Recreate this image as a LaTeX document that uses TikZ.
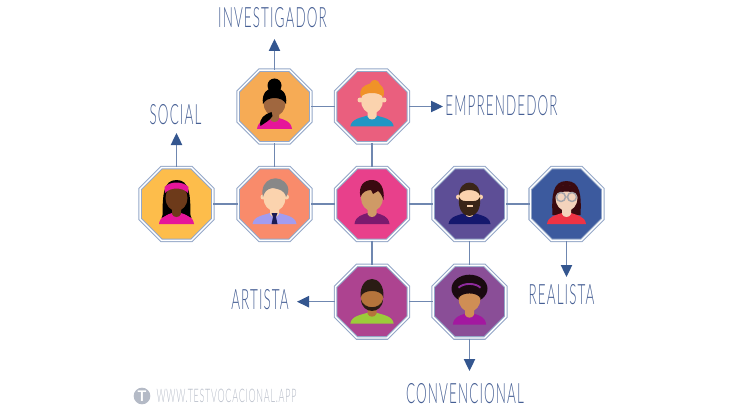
\documentclass[tikz,border=0pt]{standalone}
\usepackage{fontspec}
\setmainfont{Lato}
\newfontfamily\handfont[FakeStretch=0.48,LetterSpace=4]{Lato Light}
\usetikzlibrary{shapes.geometric,arrows.meta}

\definecolor{linkblue}{HTML}{6F87B0}
\definecolor{tipblue}{HTML}{34568F}
\definecolor{labelblue}{HTML}{465F94}
\definecolor{rimblue}{HTML}{94A7C8}
\definecolor{webgrey}{HTML}{B4BAC6}
\definecolor{hotpink}{HTML}{E6159A}
% octagon backgrounds
\definecolor{bgsocial}{HTML}{FDBD4B}
\definecolor{bginvest}{HTML}{F6AB55}
\definecolor{bgempren}{HTML}{EA5F7E}
\definecolor{bggrey}{HTML}{F98B6B}
\definecolor{bgcentre}{HTML}{E8408B}
\definecolor{bgbeard}{HTML}{5D4E96}
\definecolor{bgreal}{HTML}{3C5A9E}
\definecolor{bgartist}{HTML}{AD4390}
\definecolor{bgconv}{HTML}{8A4E97}
% skin, hair and shirts
\definecolor{skinsocial}{HTML}{6D3A1A}
\definecolor{skininvest}{HTML}{A0673F}
\definecolor{skinpale}{HTML}{FBD3AE}
\definecolor{skincentre}{HTML}{CF9A66}
\definecolor{skinreal}{HTML}{F3D3BC}
\definecolor{skinartist}{HTML}{B5743C}
\definecolor{skinconv}{HTML}{CF8E55}
\definecolor{hairorange}{HTML}{F09228}
\definecolor{hairgrey}{HTML}{888888}
\definecolor{hairmaroon}{HTML}{3A0A10}
\definecolor{hairbrown}{HTML}{3A2518}
\definecolor{hairdark}{HTML}{2A1C14}
\definecolor{hairafro}{HTML}{1A0A10}
\definecolor{shirtblue}{HTML}{2196C4}
\definecolor{shirtlilac}{HTML}{A39CF0}
\definecolor{tienavy}{HTML}{1B1B55}
\definecolor{shirtplum}{HTML}{7B1A6E}
\definecolor{shirtnavy}{HTML}{15186E}
\definecolor{shirtred}{HTML}{EE3344}
\definecolor{shirtgreen}{HTML}{9CCB3A}
\definecolor{shirtviolet}{HTML}{A318A0}
\definecolor{bandviolet}{HTML}{8E2A9C}
\definecolor{glassgrey}{HTML}{A5A5AA}

\tikzset{
	octa/.style={regular polygon,regular polygon sides=8,inner sep=0pt,minimum size=59pt,
		draw=rimblue,double=white,double distance=1pt,line width=0.85pt,fill=#1},
	link/.style={draw=linkblue,line width=0.9pt},
	outlink/.style={link,-{Triangle[length=9pt,width=8.5pt,color=tipblue]}},
	area/.style={font=\handfont\fontsize{21pt}{21pt}\selectfont,text=labelblue,inner sep=0pt}
}
% shoulders, neck and face of one person: skin, shirt, half width of the shoulders
\newcommand{\bust}[3]{
	\fill [#2] (-#3,20) .. controls (-#3+1,12) and (-10,11) .. (-4.5,9) -- (4.5,9) .. controls (10,11) and (#3-1,12) .. (#3,20) -- cycle ;
	\fill [#1] (-4.5,2) -- (4.5,2) -- (4.5,10) .. controls (3,14) and (-3,14) .. (-4.5,10) -- cycle ;
	\fill [#1] (0,-6) ellipse (11 and 13) ;
}

\begin{document}
\begin{tikzpicture}[x=0.75pt,y=0.75pt,yscale=-1,xscale=1]
	\useasboundingbox (0,0) rectangle (743,410);

	% Octagons
	\node [octa=bgsocial] (social) at (176.5,204) {};
	\node [octa=bginvest] (investigador) at (274.5,106.5) {};
	\node [octa=bgempren] (emprendedor) at (372,106.5) {};
	\node [octa=bggrey] (grey) at (274.5,204) {};
	\node [octa=bgcentre] (centre) at (372,204) {};
	\node [octa=bgbeard] (beard) at (469.5,204) {};
	\node [octa=bgreal] (realista) at (566.5,204) {};
	\node [octa=bgartist] (artista) at (372,301.7) {};
	\node [octa=bgconv] (convencional) at (469.5,301.7) {};

	% Links
	\draw [link] (social) -- (grey) ;
	\draw [link] (grey) -- (centre) ;
	\draw [link] (centre) -- (beard) ;
	\draw [link] (beard) -- (realista) ;
	\draw [link] (investigador) -- (emprendedor) ;
	\draw [link] (investigador) -- (grey) ;
	\draw [link] (emprendedor) -- (centre) ;
	\draw [link] (centre) -- (artista) ;
	\draw [link] (beard) -- (convencional) ;
	\draw [link] (artista) -- (convencional) ;

	% Free ends
	\coordinate (socialtip) at (176.5,133) ;
	\coordinate (investigadortip) at (274.5,39) ;
	\coordinate (emprendedortip) at (443,106.5) ;
	\coordinate (artistatip) at (297,301.7) ;
	\coordinate (realistatip) at (566.5,277) ;
	\coordinate (convencionaltip) at (469.5,371) ;
	\draw [outlink] (social) -- (socialtip) ;
	\draw [outlink] (investigador) -- (investigadortip) ;
	\draw [outlink] (emprendedor) -- (emprendedortip) ;
	\draw [outlink] (artista) -- (artistatip) ;
	\draw [outlink] (realista) -- (realistatip) ;
	\draw [outlink] (convencional) -- (convencionaltip) ;

	% Text Node
	\node [area] (socialtext) at (175.5,115) {SOCIAL};
	\node [area] (investigadortext) at (272.5,18) {INVESTIGADOR};
	\node [area] (emprendedortext) at (501.5,106) {EMPRENDEDOR};
	\node [area] (artistatext) at (260,300) {ARTISTA};
	\node [area] (realistatext) at (561.5,295) {REALISTA};
	\node [area] (convencionaltext) at (465,394) {CONVENCIONAL};

	% Person, social
	\begin{scope}[shift={(176.5,204)}]
		\fill [black] (-14,13) .. controls (-14,-10) and (-13,-24) .. (0,-24) .. controls (13,-24) and (14,-10) .. (14,13) -- cycle ;
		\bust{skinsocial}{hotpink}{17.5}
		\fill [black] (-15,14) -- (-10,2) -- (-5,8) -- cycle ;
		\fill [black] (15,14) -- (10,2) -- (5,8) -- cycle ;
		\fill [hotpink] (-11.5,-11) .. controls (-6,-17) and (6,-17) .. (11.5,-11) -- (12,-17) .. controls (6,-23) and (-6,-23) .. (-12,-17) -- cycle ;
	\end{scope}

	% Person, investigador
	\begin{scope}[shift={(274.5,109)}]
		\fill [black] (0,-23.5) circle (7) ;
		\bust{skininvest}{hotpink}{17.5}
		\fill [black] (-11.5,-5) .. controls (-15,-27) and (15,-27) .. (11.5,-5) .. controls (8,-13) and (-8,-13) .. (-11.5,-5) -- cycle ;
		\fill [black] (-3,3) .. controls (-10,5) and (-16,10) .. (-14,17) .. controls (-10,14) and (-5,12) .. (-2,7) -- cycle ;
	\end{scope}

	% Person, emprendedor
	\begin{scope}[shift={(372,106.5)}]
		\fill [skinpale] (-12,-6.5) circle (2.5) (12,-6.5) circle (2.5) ;
		\bust{skinpale}{shirtblue}{21.7}
		\fill [hairorange] (-11,-9) .. controls (-14,-18) and (-8,-21) .. (-2,-23) .. controls (0,-28) and (6,-28) .. (8,-22) .. controls (12,-19) and (13,-14) .. (11,-9) .. controls (9,-15) and (-9,-15) .. (-11,-9) -- cycle ;
	\end{scope}

	% Person, grey
	\begin{scope}[shift={(274.5,204)}]
		\fill [skinpale] (-11.5,-7) circle (2.5) (12,-7) circle (2.5) ;
		\bust{skinpale}{shirtlilac}{22}
		\fill [hairgrey] (-11.5,-7) .. controls (-16,-26) and (6,-32) .. (13,-18) .. controls (15,-14) and (13,-9) .. (11.5,-7) .. controls (10,-14) and (4,-15) .. (-2,-16) .. controls (-8,-15) and (-10,-12) .. (-11.5,-7) -- cycle ;
		\fill [tienavy] (-3,9) -- (3,9) -- (1.5,13) -- (3,20) -- (-3,20) -- (-1.5,13) -- cycle ;
	\end{scope}

	% Person, centre
	\begin{scope}[shift={(372,204)}]
		\bust{skincentre}{shirtplum}{17.5}
		\fill [hairmaroon] (-11.5,-7) .. controls (-14,-18) and (-8,-24) .. (0,-24) .. controls (8,-24) and (13,-16) .. (11.5,-4) .. controls (10,-8) and (8,-12) .. (6,-13) -- (1,-10) -- (-1,-14) .. controls (-5,-14) and (-10,-12) .. (-11.5,-7) -- cycle ;
	\end{scope}

	% Person, beard
	\begin{scope}[shift={(469.5,204)}]
		\fill [skinpale] (-11,-7) circle (2.5) (11,-7) circle (2.5) ;
		\bust{skinpale}{shirtnavy}{21}
		\fill [hairbrown] (-10.5,-8) .. controls (-11,-26) and (11,-26) .. (10.5,-8) .. controls (9,-16) and (-9,-16) .. (-10.5,-8) -- cycle ;
		\fill [hairbrown] (-10.5,-7) .. controls (-12,6) and (-6,12) .. (0,12) .. controls (6,12) and (12,6) .. (10.5,-7) .. controls (8,-2) and (5,-3) .. (0,-3) .. controls (-5,-3) and (-8,-2) .. (-10.5,-7) -- cycle ;
		\fill [skinpale] (-3,1) rectangle (3,3) ;
	\end{scope}

	% Person, realista
	\begin{scope}[shift={(566.5,204)}]
		\fill [hairmaroon] (-14,11) .. controls (-15,-8) and (-14,-23) .. (0,-23) .. controls (14,-23) and (15,-8) .. (14,11) -- cycle ;
		\bust{skinreal}{shirtred}{19.5}
		\fill [hairmaroon] (-11.5,-8) .. controls (-10,-23) and (10,-23) .. (11.5,-8) .. controls (6,-14) and (-6,-14) .. (-11.5,-8) -- cycle ;
		\draw [glassgrey,line width=1.1pt] (-5.5,-7) circle (4.5) (5.5,-7) circle (4.5) (-1,-7) -- (1,-7) ;
	\end{scope}

	% Person, artista
	\begin{scope}[shift={(372,303.7)}]
		\bust{skinartist}{shirtgreen}{21.7}
		\fill [hairdark] (-11.5,-6) .. controls (-13,-31) and (13,-31) .. (11.5,-6) .. controls (10,-15) and (-10,-15) .. (-11.5,-6) -- cycle ;
		\fill [hairdark] (-11,-4) .. controls (-10,11) and (10,11) .. (11,-4) .. controls (8,6) and (-8,6) .. (-11,-4) -- cycle ;
	\end{scope}

	% Person, convencional
	\begin{scope}[shift={(469.5,304.7)}]
		\fill [hairafro] (0,-16) ellipse (18 and 14) ;
		\bust{skinconv}{shirtviolet}{16.7}
		\fill [hairafro] (-11,-6) .. controls (-9,-13) and (9,-13) .. (11,-6) -- (11,-20) -- (-11,-20) -- cycle ;
		\draw [bandviolet,line width=1.4pt] (-11,-17) .. controls (-6,-22) and (6,-22) .. (11,-17) ;
	\end{scope}

	% Footer
	\node [circle,fill=webgrey,minimum size=12.5pt,inner sep=0pt,text=white,font=\bfseries\fontsize{11pt}{11pt}\selectfont] (logo) at (142,396) {T};
	\node [font=\handfont\fontsize{14pt}{14pt}\selectfont,text=webgrey,inner sep=0pt] (web) at (226.5,396) {WWW.TESTVOCACIONAL.APP};
\end{tikzpicture}
\end{document}
